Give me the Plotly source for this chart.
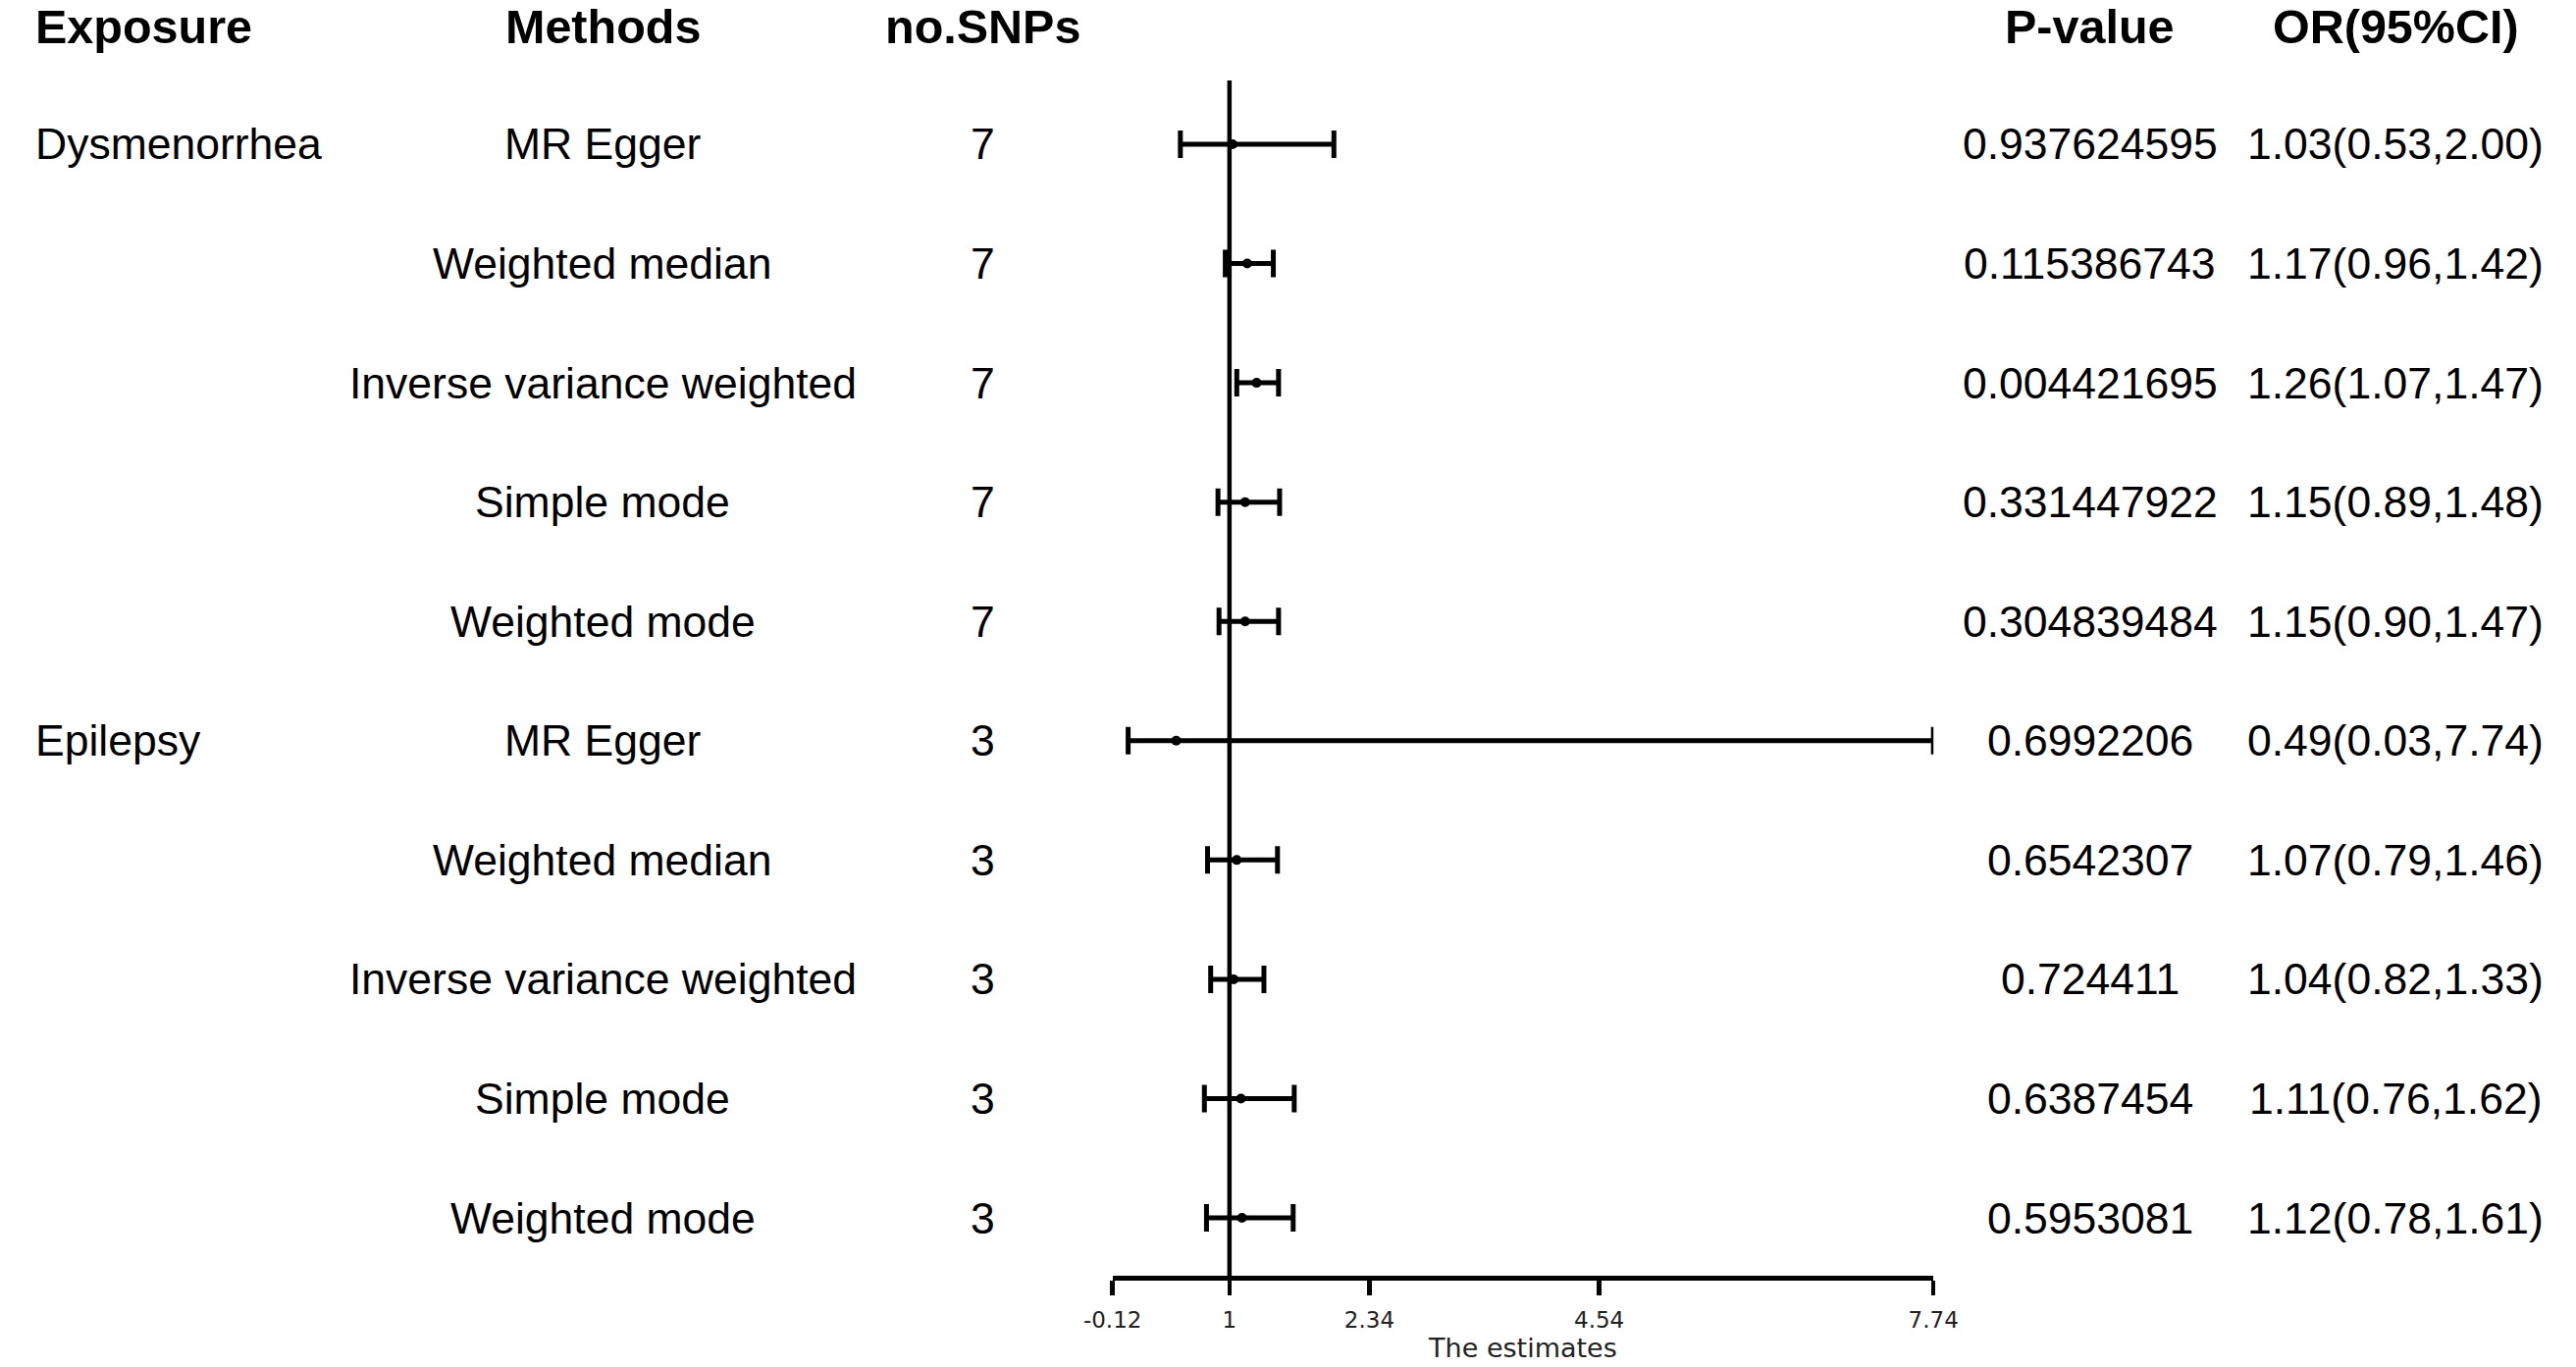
import plotly.graph_objects as go

# ---------------- data ----------------
exposure = ["Dysmenorrhea", "", "", "", "", "Epilepsy", "", "", "", ""]
methods = ["MR Egger", "Weighted median", "Inverse variance weighted", "Simple mode", "Weighted mode",
           "MR Egger", "Weighted median", "Inverse variance weighted", "Simple mode", "Weighted mode"]
n_snps = [7, 7, 7, 7, 7, 3, 3, 3, 3, 3]
p_values = ["0.937624595", "0.115386743", "0.004421695", "0.331447922", "0.304839484",
            "0.6992206", "0.6542307", "0.724411", "0.6387454", "0.5953081"]
or_est = [1.03, 1.17, 1.26, 1.15, 1.15, 0.49, 1.07, 1.04, 1.11, 1.12]
or_low = [0.53, 0.96, 1.07, 0.89, 0.90, 0.03, 0.79, 0.82, 0.76, 0.78]
or_high = [2.00, 1.42, 1.47, 1.48, 1.47, 7.74, 1.46, 1.33, 1.62, 1.61]
headers = ["Exposure", "Methods", "no.SNPs", "P-value", "OR(95%CI)"]
tick_vals = [-0.12, 1, 2.34, 4.54, 7.74]
tick_text = ["-0.12", "1", "2.34", "4.54", "7.74"]
ref_value = 1
x_title = "The estimates"

# ---------------- layout constants ----------------
W, H = 2625, 1393
BODY_FONT = dict(family="Liberation Sans, Arial, sans-serif", size=44.5, color="black")
HEAD_FONT = dict(family="Liberation Sans, Arial, sans-serif", size=48.5, color="black")
col_x = {"Exposure": 4 / W, "Methods": 597 / W, "no.SNPs": 993 / W, "P-value": 2145.5 / W, "OR(95%CI)": 2464 / W}
col_anchor = {"Exposure": "left", "Methods": "center", "no.SNPs": "center", "P-value": "center", "OR(95%CI)": "center"}
header_px = 27

rows = list(range(len(methods)))
or_text = ["%.2f(%.2f,%.2f)" % (e, l, h) for e, l, h in zip(or_est, or_low, or_high)]

fig = go.Figure()
fig.add_trace(go.Scatter(
    x=or_est, y=rows, mode="markers",
    marker=dict(color="black", size=10, symbol="circle"),
    error_x=dict(type="data", symmetric=False,
                 array=[h - e for h, e in zip(or_high, or_est)],
                 arrayminus=[e - l for e, l in zip(or_est, or_low)],
                 color="black", thickness=5, width=14),
    cliponaxis=False, showlegend=False, hoverinfo="skip",
))

# reference line at OR = 1
fig.add_shape(type="line", xref="x", yref="y domain", x0=ref_value, x1=ref_value, y0=0, y1=1,
              line=dict(color="black", width=4.5), layer="below")

annotations = []
columns = {"Exposure": exposure, "Methods": methods, "no.SNPs": [str(n) for n in n_snps],
           "P-value": p_values, "OR(95%CI)": or_text}
for h in headers:
    annotations.append(dict(x=col_x[h], y=1 - header_px / H, xref="paper", yref="paper", text="<b>%s</b>" % h,
                            showarrow=False, xanchor=col_anchor[h], yanchor="middle", font=HEAD_FONT))
    for r, t in zip(rows, columns[h]):
        if t:
            annotations.append(dict(x=col_x[h], y=r, xref="paper", yref="y", text=t,
                                    showarrow=False, xanchor=col_anchor[h], yanchor="middle", font=BODY_FONT))

top_px, bottom_px = 82, 1300
row0_px, row_step = 147, 121.56
fig.update_layout(
    width=W, height=H, margin=dict(l=0, r=0, t=0, b=0),
    paper_bgcolor="white", plot_bgcolor="white",
    annotations=annotations,
    xaxis=dict(domain=[1127.7 / W, 1982.5 / W], range=[tick_vals[0], tick_vals[-1]],
               tickmode="array", tickvals=tick_vals, ticktext=tick_text,
               ticks="outside", ticklen=15, tickwidth=4.5, tickcolor="black",
               showline=True, linewidth=4.5, linecolor="black",
               showgrid=False, zeroline=False, ticklabelstandoff=6,
               tickfont=dict(family="DejaVu Sans", size=23, color="#222"),
               title=dict(text=x_title, font=dict(family="DejaVu Sans", size=27, color="#222"), standoff=5)),
    yaxis=dict(domain=[(H - bottom_px) / H, 1 - top_px / H],
               range=[(bottom_px - row0_px) / row_step, (top_px - row0_px) / row_step],
               visible=False, showgrid=False, zeroline=False),
)

fig.write_html("out.html", config={"displayModeBar": False, "staticPlot": True},
               post_script="document.body.style.margin='0px';document.body.style.overflow='hidden';")
